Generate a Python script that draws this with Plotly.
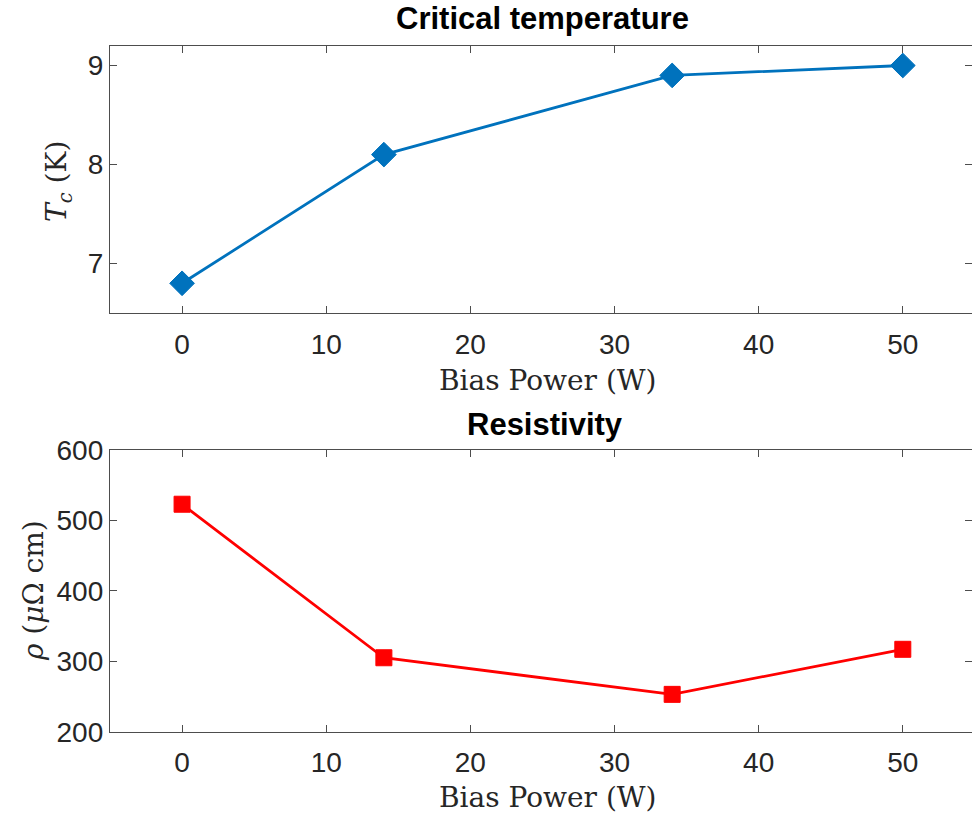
import plotly.graph_objects as go

bias_power = [0, 14, 34, 50]
tc_values = [6.8, 8.1, 8.9, 9.0]
rho_values = [523, 305, 253, 317]

x_ticks = [0, 10, 20, 30, 40, 50]
tc_ticks = [7, 8, 9]
rho_ticks = [200, 300, 400, 500, 600]

W, H = 972, 819
L = 110

fig = go.Figure()
fig.add_trace(go.Scatter(x=bias_power, y=tc_values, mode="lines+markers",
                         line=dict(color="#0072BD", width=2.8),
                         marker=dict(symbol="diamond", size=19, color="#0072BD",
                                     line=dict(color="#0072BD", width=1)),
                         xaxis="x", yaxis="y", showlegend=False))
fig.add_trace(go.Scatter(x=bias_power, y=rho_values, mode="lines+markers",
                         line=dict(color="#FF0000", width=2.8),
                         marker=dict(symbol="square", size=16, color="#FF0000",
                                     line=dict(color="#FF0000", width=1)),
                         xaxis="x2", yaxis="y2", showlegend=False))

def py(p):
    return (H - p) / H

axis_common = dict(showgrid=False, zeroline=False, showline=True, linecolor="#4d4d4d",
                   linewidth=1.3, mirror="ticks", ticks="inside", ticklen=7,
                   tickwidth=1.2, tickcolor="#4d4d4d",
                   tickfont=dict(family="Liberation Sans, Arial", size=28, color="#262626"))

fig.update_layout(
    width=W, height=H,
    margin=dict(l=L, r=0, t=0, b=0, autoexpand=False),
    plot_bgcolor="white", paper_bgcolor="white",
    xaxis=dict(domain=[0, 1], anchor="y", range=[-5, 54.8], tickvals=x_ticks,
               ticklabelstandoff=6, **axis_common),
    yaxis=dict(domain=[py(313), py(45.7)], anchor="x", range=[6.5, 9.2], tickvals=tc_ticks, **axis_common),
    xaxis2=dict(domain=[0, 1], anchor="y2", range=[-5, 54.8], tickvals=x_ticks,
                ticklabelstandoff=6, **axis_common),
    yaxis2=dict(domain=[py(731.7), py(450)], anchor="x2", range=[200, 600], tickvals=rho_ticks, **axis_common),
)

def xp(px):
    return (px - L) / (W - L)

ann = []
bold = dict(family="Liberation Sans, Arial", size=31, color="black")
ann.append(dict(text="<b>Critical temperature</b>", x=xp(542), y=py(18), xref="paper", yref="paper",
                showarrow=False, font=bold, xanchor="center", yanchor="middle"))
ann.append(dict(text="<b>Resistivity</b>", x=xp(545), y=py(425), xref="paper", yref="paper",
                showarrow=False, font=bold, xanchor="center", yanchor="middle"))
serif = dict(family="DejaVu Serif", size=28, color="#262626")
ann.append(dict(text="Bias Power (W)", x=xp(548), y=py(380), xref="paper", yref="paper",
                showarrow=False, font=serif, xanchor="center", yanchor="middle"))
ann.append(dict(text="Bias Power (W)", x=xp(548), y=py(797), xref="paper", yref="paper",
                showarrow=False, font=serif, xanchor="center", yanchor="middle"))
ann.append(dict(text="<i>T</i><sub><i>c</i></sub> (K)", x=xp(58), y=py(182), xref="paper", yref="paper",
                showarrow=False, font=serif, textangle=-90, xanchor="center", yanchor="middle"))
ann.append(dict(text="<i>ρ</i> (<i>μ</i>Ω cm)", x=xp(33), y=py(591), xref="paper", yref="paper",
                showarrow=False, font=serif, textangle=-90, xanchor="center", yanchor="middle"))
fig.update_layout(annotations=ann)

fig.write_html("out.html")
